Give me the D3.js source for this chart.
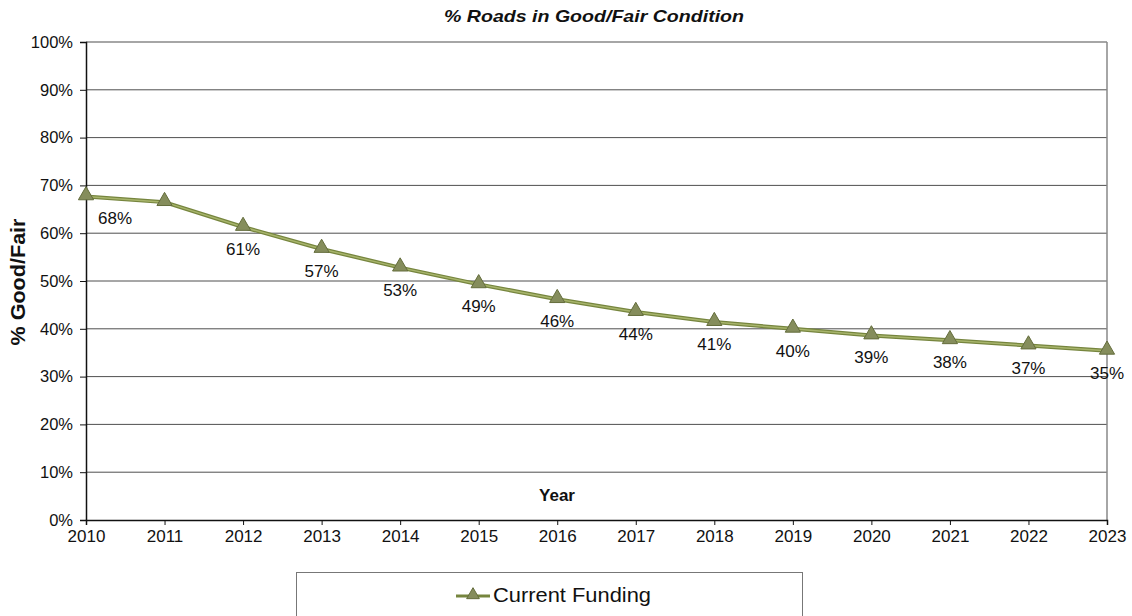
<!DOCTYPE html>
<html>
<head>
<meta charset="utf-8">
<script src="https://cdn.jsdelivr.net/npm/d3@7"></script>
<style>
  body { margin: 0; background: #fff; }
  text { font-family: "Liberation Sans", Arial, sans-serif; }
</style>
</head>
<body>
<div class="box"></div>
<script>
const years = [2010, 2011, 2012, 2013, 2014, 2015, 2016, 2017, 2018, 2019, 2020, 2021, 2022, 2023]
const goodFair = [67.7, 66.5, 61.3, 56.7, 52.8, 49.3, 46.2, 43.5, 41.4, 40.0, 38.6, 37.6, 36.5, 35.4]
const pointLabels = ["68%", "", "61%", "57%", "53%", "49%", "46%", "44%", "41%", "40%", "39%", "38%", "37%", "35%"]
const yTicks = [0, 10, 20, 30, 40, 50, 60, 70, 80, 90, 100]
const seriesName = "Current Funding"

const width = 1132
const height = 616
const margin = { top: 42, right: 25, bottom: 96, left: 86 }

const svg = d3.select('.box')
              .append('svg')
              .attr('width', width)
              .attr('height', height)

const x = d3.scalePoint()
            .domain(years)
            .range([margin.left, width - margin.right])

const y = d3.scaleLinear()
            .domain([0, 100])
            .range([height - margin.bottom, margin.top])

// gridlines
svg.append('g')
   .selectAll('line')
   .data(yTicks.filter(d => d > 0))
   .enter()
   .append('line')
   .attr('x1', margin.left)
   .attr('x2', width - margin.right)
   .attr('y1', d => y(d))
   .attr('y2', d => y(d))
   .attr('stroke', d => d === 100 ? '#888' : '#222')
   .attr('stroke-width', d => d === 100 ? 1.5 : 0.8)

// right border
svg.append('line')
   .attr('x1', width - margin.right)
   .attr('x2', width - margin.right)
   .attr('y1', y(100))
   .attr('y2', y(0))
   .attr('stroke', '#888')
   .attr('stroke-width', 1.5)

// axes
const yAxis = svg.append('g')
   .attr('transform', `translate(${margin.left},0)`)
   .call(d3.axisLeft(y).tickValues(yTicks).tickFormat(d => d + '%').tickSize(6).tickPadding(7))
yAxis.select('.domain').attr('stroke', '#111').attr('stroke-width', 1.5)
yAxis.selectAll('.tick line').attr('stroke', '#111')
yAxis.selectAll('text').attr('font-size', 16.5).attr('fill', '#111')

const xAxis = svg.append('g')
   .attr('transform', `translate(0,${y(0)})`)
   .call(d3.axisBottom(x).tickSize(5).tickPadding(5))
xAxis.select('.domain').attr('stroke', '#111').attr('stroke-width', 1.5)
xAxis.selectAll('.tick line').attr('stroke', '#111')
xAxis.selectAll('text').attr('font-size', 17).attr('fill', '#111')

// title
svg.append('text')
   .attr('x', 594)
   .attr('y', 22)
   .attr('text-anchor', 'middle')
   .attr('font-size', 17)
   .attr('font-weight', 'bold')
   .attr('font-style', 'italic')
   .attr('fill', '#111')
   .attr('textLength', 300)
   .attr('lengthAdjust', 'spacingAndGlyphs')
   .text('% Roads in Good/Fair Condition')

// axis titles
svg.append('text')
   .attr('transform', `translate(25, 282) rotate(-90)`)
   .attr('text-anchor', 'middle')
   .attr('font-size', 20)
   .attr('font-weight', 'bold')
   .attr('fill', '#111')
   .attr('textLength', 127)
   .attr('lengthAdjust', 'spacingAndGlyphs')
   .text('% Good/Fair')

svg.append('text')
   .attr('x', 557)
   .attr('y', 501)
   .attr('text-anchor', 'middle')
   .attr('font-size', 17)
   .attr('font-weight', 'bold')
   .attr('fill', '#111')
   .text('Year')

// line
const line = d3.line()
               .x((d, i) => x(years[i]))
               .y(d => y(d))

svg.append('path')
   .datum(goodFair)
   .attr('d', line)
   .attr('fill', 'none')
   .attr('stroke', '#76853e')
   .attr('stroke-width', 4)
svg.append('path')
   .datum(goodFair)
   .attr('d', line)
   .attr('fill', 'none')
   .attr('stroke', '#a8b56c')
   .attr('stroke-width', 1.5)

const tri = d3.symbol().type(d3.symbolTriangle).size(100)

svg.selectAll('.marker')
   .data(goodFair).enter()
   .append('path')
   .attr('class', 'marker')
   .attr('d', tri)
   .attr('transform', (d, i) => `translate(${x(years[i])},${y(d) - 1})`)
   .attr('fill', '#858d5c')
   .attr('stroke', '#646d3c')
   .attr('stroke-width', 1)

// point labels
svg.selectAll('.plabel')
   .data(goodFair).enter()
   .append('text')
   .attr('class', 'plabel')
   .attr('x', (d, i) => i === 0 ? x(years[i]) + 29 : x(years[i]))
   .attr('y', d => y(d) + 28)
   .attr('text-anchor', 'middle')
   .attr('font-size', 17)
   .attr('fill', '#111')
   .text((d, i) => pointLabels[i])

// legend
const legend = svg.append('g')
legend.append('rect')
      .attr('x', 296.5)
      .attr('y', 572.5)
      .attr('width', 506)
      .attr('height', 60)
      .attr('fill', '#fff')
      .attr('stroke', '#777')
legend.append('line')
      .attr('x1', 456).attr('x2', 490)
      .attr('y1', 596).attr('y2', 596)
      .attr('stroke', '#76853e')
      .attr('stroke-width', 3)
legend.append('path')
      .attr('d', d3.symbol().type(d3.symbolTriangle).size(70))
      .attr('transform', 'translate(473,595)')
      .attr('fill', '#858d5c')
      .attr('stroke', '#646d3c')
legend.append('text')
      .attr('x', 493)
      .attr('y', 602)
      .attr('font-size', 20)
      .attr('fill', '#111')
      .attr('textLength', 158)
      .attr('lengthAdjust', 'spacingAndGlyphs')
      .text(seriesName)
</script>
</body>
</html>
